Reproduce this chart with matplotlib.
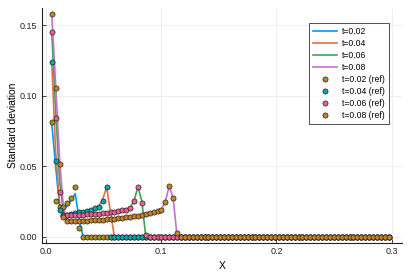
import numpy as np
import matplotlib
matplotlib.use("Agg")
import matplotlib.pyplot as plt

plt.rcParams['font.family'] = ['Liberation Sans', 'DejaVu Sans']

# grid of cell positions
x = 0.005 + 0.0034 * np.arange(87)
n = len(x)


def pad(vals):
    return np.array(vals + [0.0] * (n - len(vals)))


# simulated curves
sim_t002 = pad([0.080, 0.050, 0.021, 0.019, 0.022, 0.026, 0.0305, 0.012, 0.0])
sim_t004 = pad([0.124, 0.060, 0.024, 0.0165, 0.0160, 0.0163, 0.0168, 0.0173,
                0.0179, 0.0186, 0.0193, 0.0203, 0.0218, 0.0262, 0.0352, 0.0170,
                0.0])
sim_t006 = pad([0.145, 0.090, 0.040, 0.0160, 0.0152, 0.0153, 0.0155, 0.0157,
                0.0159, 0.0161, 0.0163, 0.0165, 0.0168, 0.0171, 0.0174, 0.0177,
                0.0181, 0.0185, 0.0190, 0.0196, 0.0205, 0.0252, 0.0355, 0.0250,
                0.0])
sim_t008 = pad([0.158, 0.108, 0.055, 0.0200, 0.0120, 0.0111, 0.0111, 0.0112,
                0.0113, 0.0114, 0.0116, 0.0118, 0.0120, 0.0122, 0.0124, 0.0126,
                0.0129, 0.0132, 0.0135, 0.0138, 0.0142, 0.0146, 0.0150, 0.0155,
                0.0160, 0.0166, 0.0173, 0.0181, 0.0191, 0.0250, 0.0360, 0.0270,
                0.0])

# reference solutions
ref_t002 = pad([0.0815, 0.0255, 0.0212, 0.0208, 0.0237, 0.0277, 0.0352, 0.0064])
ref_t004 = pad([0.124, 0.0537, 0.0190, 0.0152, 0.0155, 0.0160, 0.0166, 0.0172,
                0.0178, 0.0185, 0.0192, 0.0201, 0.0213, 0.0255, 0.0352, 0.0])
ref_t006 = pad([0.145, 0.084, 0.032, 0.0149, 0.0150, 0.0151, 0.0152, 0.0154,
                0.0156, 0.0157, 0.0159, 0.0161, 0.0164, 0.0167, 0.0170, 0.0173,
                0.0177, 0.0181, 0.0186, 0.0192, 0.0201, 0.0250, 0.0355, 0.0240,
                0.0012])
ref_t008 = pad([0.158, 0.1057, 0.0515, 0.0137, 0.0113, 0.0110, 0.0110, 0.0111,
                0.0112, 0.0113, 0.0115, 0.0117, 0.0119, 0.0121, 0.0123, 0.0125,
                0.0128, 0.0131, 0.0134, 0.0137, 0.0141, 0.0145, 0.0149, 0.0154,
                0.0159, 0.0165, 0.0172, 0.0180, 0.0190, 0.0248, 0.0360, 0.0272,
                0.0024])

sim_labels = ["t=0.02", "t=0.04", "t=0.06", "t=0.08"]
ref_labels = ["t=0.02 (ref)", "t=0.04 (ref)", "t=0.06 (ref)", "t=0.08 (ref)"]
line_colors = ["#009AFA", "#E36F47", "#3EA44E", "#C371D2"]
dot_colors = ["#AC8E18", "#00A9AD", "#ED5E93", "#C68225"]

fig = plt.figure(figsize=(4.09, 2.73), dpi=100)
ax = fig.add_axes([0.102, 0.111, 0.881, 0.860])

for y, lab, c in zip([sim_t002, sim_t004, sim_t006, sim_t008], sim_labels, line_colors):
    ax.plot(x, y, color=c, lw=1.2, label=lab)
for y, lab, c in zip([ref_t002, ref_t004, ref_t006, ref_t008], ref_labels, dot_colors):
    ax.plot(x, y, ls="none", marker="o", ms=3.7, mfc=c, mec="#222222", mew=0.5,
            label=lab)

ax.set_xlim(-0.0037, 0.309)
ax.set_ylim(-0.0043, 0.1622)
ax.set_xticks([0.0, 0.1, 0.2, 0.3])
ax.set_xticklabels(["0.0", "0.1", "0.2", "0.3"])
ax.set_yticks([0.0, 0.05, 0.10, 0.15])
ax.set_yticklabels(["0.00", "0.05", "0.10", "0.15"])
ax.tick_params(direction="in", length=3, width=0.6, labelsize=6.5, pad=3,
               colors="#222222")
ax.grid(True, color="#e8e8e8", lw=0.5)
ax.set_axisbelow(True)
for s in ["top", "right"]:
    ax.spines[s].set_visible(False)
for s in ["left", "bottom"]:
    ax.spines[s].set_linewidth(0.8)
    ax.spines[s].set_color("#222222")

ax.set_xlabel("X", fontsize=7.5, labelpad=4)
ax.set_ylabel("Standard deviation", fontsize=7.4, labelpad=1.5)

leg = ax.legend(loc="upper right", bbox_to_anchor=(0.964, 0.937), fontsize=6.2,
                frameon=True, fancybox=False, handlelength=2.7, handletextpad=0.6,
                labelspacing=0.35, borderpad=0.5, borderaxespad=0.0)
leg.get_frame().set_edgecolor("#222222")
leg.get_frame().set_linewidth(0.7)

fig.savefig("out.png", dpi=100)
